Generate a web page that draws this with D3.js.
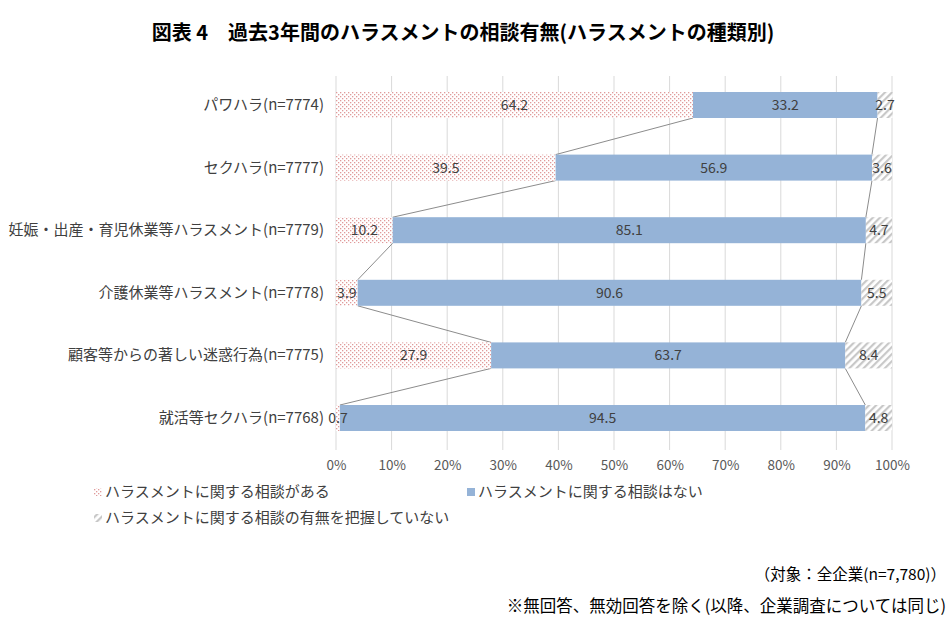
<!DOCTYPE html>
<html>
<head>
<meta charset="utf-8">
<script src="https://cdn.jsdelivr.net/npm/d3@7"></script>
<style>
body { margin: 0; background: #fff; }
text { font-family: "Noto Sans CJK JP", sans-serif; }
</style>
</head>
<body>
<div id="chart"></div>
<script>
var categories = ["パワハラ(n=7774)", "セクハラ(n=7777)", "妊娠・出産・育児休業等ハラスメント(n=7779)", "介護休業等ハラスメント(n=7778)", "顧客等からの著しい迷惑行為(n=7775)", "就活等セクハラ(n=7768)"];
var seriesNames = ["ハラスメントに関する相談がある", "ハラスメントに関する相談はない", "ハラスメントに関する相談の有無を把握していない"];
var consulted = [64.2, 39.5, 10.2, 3.9, 27.9, 0.7];
var notConsulted = [33.2, 56.9, 85.1, 90.6, 63.7, 94.5];
var unknown = [2.7, 3.6, 4.7, 5.5, 8.4, 4.8];
var xTicks = [0, 10, 20, 30, 40, 50, 60, 70, 80, 90, 100];

var width = 950, height = 633;
var barH = 26;
var numFont = "Liberation Sans Narrow, Noto Sans CJK JP";

var svg = d3.select("#chart").append("svg")
	.attr("width", width)
	.attr("height", height);

var defs = svg.append("defs");
var dots = defs.append("pattern").attr("id", "dots")
	.attr("patternUnits", "userSpaceOnUse").attr("width", 4).attr("height", 4);
dots.append("rect").attr("width", 4).attr("height", 4).attr("fill", "#fff");
dots.append("rect").attr("x", 0).attr("y", 0).attr("width", 1.3).attr("height", 1.3).attr("fill", "#e09a9a");
dots.append("rect").attr("x", 2).attr("y", 2).attr("width", 1.3).attr("height", 1.3).attr("fill", "#e09a9a");

var hatch = defs.append("pattern").attr("id", "hatch")
	.attr("patternUnits", "userSpaceOnUse").attr("width", 5).attr("height", 5)
	.attr("patternTransform", "rotate(45)");
hatch.append("rect").attr("width", 5).attr("height", 5).attr("fill", "#fff");
hatch.append("rect").attr("width", 2.2).attr("height", 5).attr("fill", "#c8c8c8");

var fills = ["url(#dots)", "#95b3d7", "url(#hatch)"];

/* Scale */
var xScale = d3.scaleLinear().domain([0, 100]).range([336, 892]);
var yScale = d3.scalePoint().domain(categories).range([105, 418]);

/* Title */
svg.append("text")
	.attr("x", 463).attr("y", 40)
	.attr("text-anchor", "middle")
	.style("font-size", "20px").style("font-weight", "bold").attr("fill", "#000")
	.text("図表 4　過去3年間のハラスメントの相談有無(ハラスメントの種類別)");

/* Gridlines + axis */
svg.append("g").selectAll("line")
	.data(xTicks).enter()
	.append("line")
	.attr("x1", d => xScale(d)).attr("x2", d => xScale(d))
	.attr("y1", 76).attr("y2", 450)
	.attr("stroke", "#d9d9d9").attr("stroke-width", 1);

var xAxis = d3.axisBottom(xScale).tickValues(xTicks).tickFormat(d => d + "%").tickSize(0).tickPadding(10);
var ax = svg.append("g")
	.attr("transform", "translate(0, 450)")
	.call(xAxis);
ax.select(".domain").remove();
ax.selectAll("text").style("font-size", "13.5px").attr("fill", "#595959").style("font-family", numFont);

/* Stacked data */
var rows = categories.map((c, i) => ({cat: c, vals: [consulted[i], notConsulted[i], unknown[i]]}));
rows.forEach(r => {
	var acc = 0;
	r.segs = r.vals.map((v, k) => { var s = {k: k, v: v, x0: acc, x1: acc + v}; acc += v; return s; });
});

/* Connector lines */
var conn = svg.append("g");
for (var i = 0; i < rows.length - 1; i++) {
	[0, 1].forEach(function(k) {
		conn.append("line")
			.attr("x1", xScale(rows[i].segs[k].x1)).attr("y1", yScale(rows[i].cat) + barH / 2)
			.attr("x2", xScale(rows[i + 1].segs[k].x1)).attr("y2", yScale(rows[i + 1].cat) - barH / 2)
			.attr("stroke", "#8c8c8c").attr("stroke-width", 1);
	});
}

/* Bars */
var g = svg.append("g").selectAll("g")
	.data(rows).enter()
	.append("g");

g.selectAll("rect")
	.data(d => d.segs.map(s => Object.assign({cat: d.cat}, s))).enter()
	.append("rect")
	.attr("x", d => xScale(d.x0))
	.attr("y", d => yScale(d.cat) - barH / 2)
	.attr("width", d => xScale(d.x1) - xScale(d.x0))
	.attr("height", barH)
	.attr("fill", d => fills[d.k]);

g.selectAll("text")
	.data(d => d.segs.map(s => Object.assign({cat: d.cat}, s))).enter()
	.append("text")
	.attr("x", d => xScale((d.x0 + d.x1) / 2))
	.attr("y", d => yScale(d.cat) + 5)
	.attr("text-anchor", "middle")
	.style("font-size", "14px").attr("fill", "#404040")
	.style("font-family", numFont)
	.text(d => d.v.toFixed(1));

/* Category labels */
svg.append("g").selectAll("text")
	.data(categories).enter()
	.append("text")
	.attr("x", 324).attr("y", d => yScale(d) + 5)
	.attr("text-anchor", "end")
	.style("font-size", "15px").attr("fill", "#404040")
	.text(d => d);

/* Legend */
var legendPos = [[94, 497], [467, 497], [94, 523]];
var lg = svg.append("g").selectAll("g")
	.data(seriesNames).enter()
	.append("g")
	.attr("transform", (d, i) => `translate(${legendPos[i][0]}, ${legendPos[i][1]})`);
lg.append("rect").attr("x", 0).attr("y", -9).attr("width", 8).attr("height", 8)
	.attr("fill", (d, i) => fills[i]);
lg.append("text").attr("x", 11).attr("y", 0)
	.style("font-size", "15px").attr("fill", "#404040")
	.text(d => d);

/* Notes */
svg.append("text").attr("x", 946).attr("y", 580).attr("text-anchor", "end")
	.style("font-size", "15.5px").attr("fill", "#000")
	.text("（対象：全企業(n=7,780)）");
svg.append("text").attr("x", 946).attr("y", 612).attr("text-anchor", "end")
	.style("font-size", "16.5px").attr("fill", "#000")
	.text("※無回答、無効回答を除く(以降、企業調査については同じ)");
</script>
</body>
</html>
